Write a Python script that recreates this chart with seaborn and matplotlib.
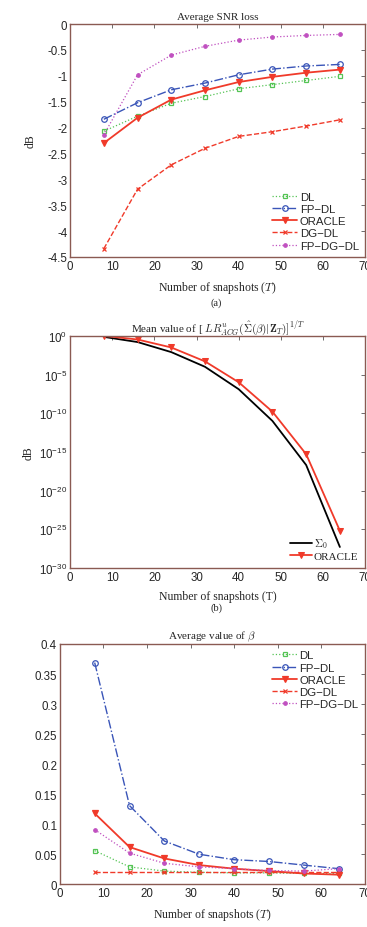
import matplotlib
matplotlib.use("Agg")
import matplotlib.pyplot as plt
import seaborn as sns
import numpy as np

# snapshots T
T = [8, 16, 24, 32, 40, 48, 56, 64]

# (a) average SNR loss, dB
snr_dl = [-2.07, -1.78, -1.53, -1.40, -1.25, -1.17, -1.09, -1.01]
snr_fpdl = [-1.84, -1.52, -1.27, -1.14, -0.98, -0.87, -0.81, -0.78]
snr_oracle = [-2.30, -1.81, -1.46, -1.28, -1.12, -1.02, -0.94, -0.88]
snr_dgdl = [-4.34, -3.19, -2.72, -2.40, -2.17, -2.08, -1.97, -1.85]
snr_fpdgdl = [-2.14, -0.98, -0.60, -0.43, -0.31, -0.25, -0.22, -0.20]

# (b) mean LR value (log10 exponents)
lr_sigma0_exp = [-0.13, -0.8, -2.1, -4.0, -6.9, -11.0, -16.7, -27.3]
lr_oracle_exp = [0.0, -0.47, -1.5, -3.3, -6.0, -9.8, -15.3, -25.2]

# (c) average beta
beta_dl = [0.056, 0.029, 0.022, 0.020, 0.019, 0.019, 0.018, 0.018]
beta_fpdl = [0.369, 0.131, 0.072, 0.050, 0.041, 0.038, 0.032, 0.026]
beta_oracle = [0.118, 0.062, 0.043, 0.032, 0.026, 0.022, 0.018, 0.016]
beta_dgdl = [0.020, 0.020, 0.020, 0.020, 0.020, 0.020, 0.020, 0.020]
beta_fpdgdl = [0.091, 0.052, 0.035, 0.029, 0.026, 0.023, 0.022, 0.026]

sns.set_style("white")
plt.rcParams["font.family"] = ["Liberation Sans", "DejaVu Sans"]
plt.rcParams["mathtext.fontset"] = "cm"

SERIF = ["Liberation Serif", "DejaVu Serif"]
FRAME = "#8a5a52"
TICK_FS = 8.3
LAB_FS = 8.5

styles = {
    "DL": dict(color="#55c455", ls=":", marker="s", mfc="none", ms=3.5, lw=0.9),
    "FP\u2212DL": dict(color="#3a55b8", ls="-.", marker="o", mfc="none", ms=4, lw=1.0),
    "ORACLE": dict(color="#f03a2a", ls="-", marker="v", mfc="#f03a2a", ms=4, lw=1.3),
    "DG\u2212DL": dict(color="#f03a2a", ls="--", marker="x", ms=2.5, lw=1.0),
    "FP\u2212DG\u2212DL": dict(color="#c050c0", ls=":", marker="o", mfc="#c050c0", ms=2.5, lw=0.9),
}


def style_axes(ax):
    for s in ax.spines.values():
        s.set_color(FRAME)
        s.set_linewidth(1.0)
    ax.tick_params(direction="in", top=True, right=True, length=3, width=0.6,
                   color="#555555", labelsize=TICK_FS, pad=2)


def draw(ax, x, y, name):
    st = styles[name]
    sns.lineplot(x=x, y=y, ax=ax, label=name, color=st["color"], linestyle=st["ls"],
                 marker=st["marker"], markersize=st["ms"], linewidth=st["lw"],
                 markerfacecolor=st.get("mfc", st["color"]), markeredgecolor=st["color"],
                 markeredgewidth=0.9)


fig = plt.figure(figsize=(3.67, 9.28), dpi=100)

# (a)
ax1 = fig.add_axes([0.191, 0.722, 0.804, 0.251])
for name, y in zip(styles, [snr_dl, snr_fpdl, snr_oracle, snr_dgdl, snr_fpdgdl]):
    draw(ax1, T, y, name)
ax1.set_xlim(0, 70)
ax1.set_ylim(-4.5, 0)
ax1.set_xticks(range(0, 71, 10))
ax1.set_yticks(np.arange(-4.5, 0.01, 0.5))
ax1.set_yticklabels(["-4.5", "-4", "-3.5", "-3", "-2.5", "-2", "-1.5", "-1", "-0.5", "0"])
style_axes(ax1)
ax1.set_title("Average SNR loss", fontsize=8, family=SERIF, pad=4)
ax1.set_xlabel("Number of snapshots ($T$)", fontsize=LAB_FS, family=SERIF, labelpad=5)
ax1.set_ylabel("dB", fontsize=LAB_FS, family=SERIF, labelpad=8)
ax1.legend(loc="lower right", frameon=False, fontsize=8.2, handlelength=2.2,
           handletextpad=0.2, labelspacing=0.2, borderaxespad=0.15)
fig.text(0.59, 1 - 303 / 928, "(a)", ha="center", va="center", fontsize=7.5, family=SERIF)

# (b)
ax2 = fig.add_axes([0.191, 0.387, 0.804, 0.250])
sns.lineplot(x=T, y=[10.0 ** e for e in lr_sigma0_exp], ax=ax2, color="black", lw=1.3,
             label=r"$\mathbf{\Sigma}_0$")
sns.lineplot(x=T, y=[10.0 ** e for e in lr_oracle_exp], ax=ax2, color="#f03a2a", lw=1.3,
             marker="v", markersize=4, markeredgecolor="#f03a2a", label="ORACLE")
ax2.set_yscale("log")
ax2.set_xlim(0, 70)
ax2.set_ylim(1e-30, 1e0)
ax2.set_xticks(range(0, 71, 10))
ax2.set_yticks([10.0 ** e for e in range(-30, 1, 5)])
ax2.minorticks_off()
style_axes(ax2)
ax2.set_title(r"Mean value of [ $LR^{u}_{ACG}(\hat{\mathbf{\Sigma}}(\beta)|\mathbf{Z}_T)]^{1/T}$",
              fontsize=8, family=SERIF, pad=4)
ax2.set_xlabel("Number of snapshots (T)", fontsize=LAB_FS, family=SERIF, labelpad=5)
ax2.set_ylabel("dB", fontsize=LAB_FS, family=SERIF, labelpad=3)
leg = ax2.legend(loc="lower right", frameon=False, fontsize=8, handlelength=2.0,
                 handletextpad=0.2, labelspacing=0.1, borderaxespad=0.2)
for t in leg.get_texts():
    t.set_family(SERIF)
fig.text(0.59, 1 - 608 / 928, "(b)", ha="center", va="center", fontsize=7.5, family=SERIF)

# (c)
ax3 = fig.add_axes([0.163, 0.046, 0.831, 0.259])
for name, y in zip(styles, [beta_dl, beta_fpdl, beta_oracle, beta_dgdl, beta_fpdgdl]):
    draw(ax3, T, y, name)
ax3.set_xlim(0, 70)
ax3.set_ylim(0, 0.4)
ax3.set_xticks(range(0, 71, 10))
ax3.set_yticks(np.arange(0, 0.41, 0.05))
ax3.set_yticklabels(["0", "0.05", "0.1", "0.15", "0.2", "0.25", "0.3", "0.35", "0.4"])
style_axes(ax3)
ax3.set_title(r"Average value of $\beta$", fontsize=8, family=SERIF, pad=4)
ax3.set_xlabel("Number of snapshots ($T$)", fontsize=LAB_FS, family=SERIF, labelpad=5)
ax3.legend(loc="upper right", frameon=False, fontsize=8.2, handlelength=2.2,
           handletextpad=0.2, labelspacing=0.2, borderaxespad=0.15)

fig.savefig("out.png", dpi=100)
